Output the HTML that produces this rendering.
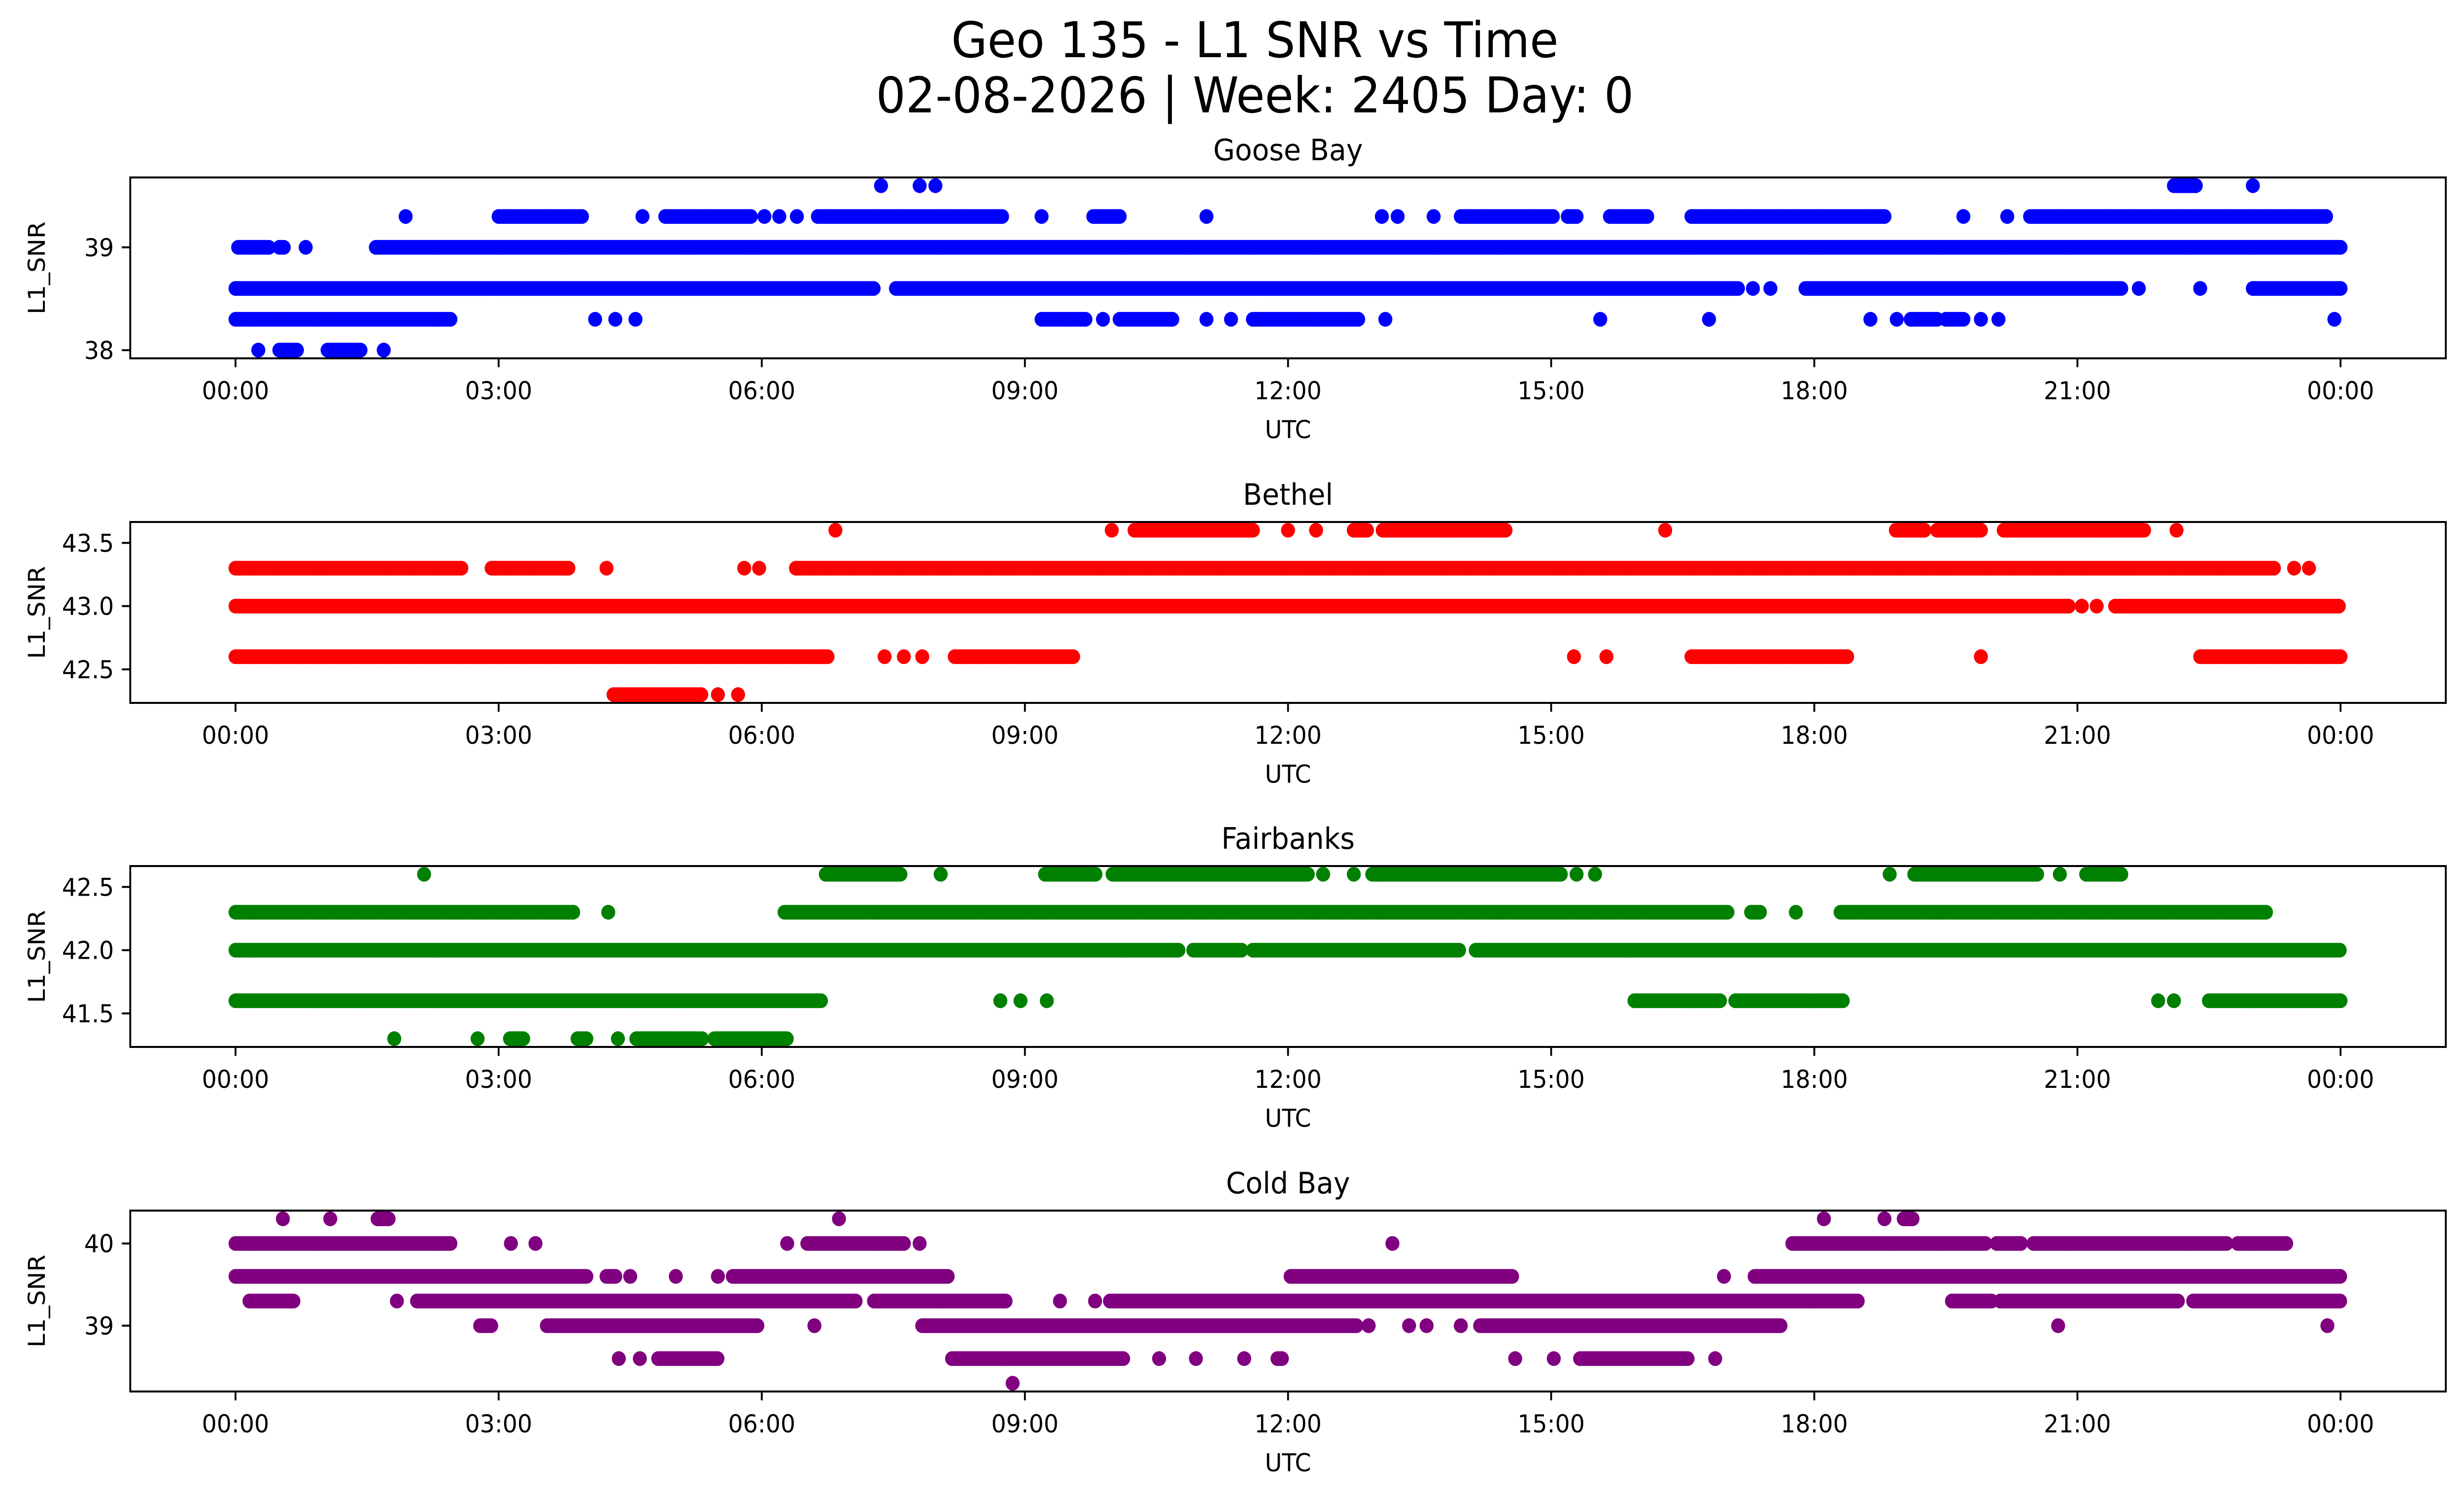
<!DOCTYPE html>
<html><head><meta charset="utf-8"><style>
html,body{margin:0;padding:0;background:#fff;width:100%;height:100%;overflow:hidden;}
svg{display:block;font-family:"DejaVu Sans","Liberation Sans",sans-serif;width:100vw;height:100vh;}
</style></head><body>
<svg id="fig" xmlns="http://www.w3.org/2000/svg" viewBox="0 0 5278 3033" preserveAspectRatio="none">
<rect x="0" y="0" width="5278" height="3033" fill="#fff"/>
<text x="2688" y="116" font-size="100" text-anchor="middle">Geo 135 - L1 SNR vs Time</text>
<text x="2688" y="228" font-size="100" text-anchor="middle">02-08-2026 | Week: 2405 Day: 0</text>
<g id="panels"></g>
</svg>
<script>
// x tick labels (hours)
const xTickHours = [0,3,6,9,12,15,18,21,24];
const xTickLabels = ["00:00","03:00","06:00","09:00","12:00","15:00","18:00","21:00","00:00"];
const stationNames = ["Goose Bay","Bethel","Fairbanks","Cold Bay"];
const stationColors = ["#0000ff","#ff0000","#008000","#800080"];
const yMins = [37.92,42.235,41.235,38.2];
const yMaxs = [39.68,43.665,42.665,40.4];
const yTicks0 = [38,39]; const yTickLabels0 = ["38","39"];
const yTicks1 = [42.5,43.0,43.5]; const yTickLabels1 = ["42.5","43.0","43.5"];
const yTicks2 = [41.5,42.0,42.5]; const yTickLabels2 = ["41.5","42.0","42.5"];
const yTicks3 = [39,40]; const yTickLabels3 = ["39","40"];
// SNR levels per station and observed time segments [startHour,endHour]
const levels0 = [39.6,39.3,39.0,38.6,38.3,38.0];
const segs0 = [
 [[7.36,7.36],[7.8,7.8],[7.98,7.98],[22.1,22.36],[23.0,23.0]],
 [[1.94,1.94],[3.0,3.97],[4.64,4.64],[4.9,5.88],[6.03,6.03],[6.2,6.2],[6.4,6.4],[6.64,8.76],[9.19,9.19],[9.78,10.1],[11.07,11.07],[13.07,13.07],[13.25,13.25],[13.66,13.66],[13.97,15.03],[15.19,15.3],[15.67,16.1],[16.6,18.8],[19.7,19.7],[20.2,20.2],[20.46,23.85]],
 [[0.03,0.4],[0.5,0.55],[0.8,0.8],[1.6,24.0]],
 [[0,7.28],[7.53,17.15],[17.3,17.3],[17.5,17.5],[17.9,21.5],[21.7,21.7],[22.4,22.4],[23.0,24.0]],
 [[0,2.45],[4.1,4.1],[4.33,4.33],[4.56,4.56],[9.19,9.7],[9.89,9.89],[10.08,10.7],[11.07,11.07],[11.35,11.35],[11.6,12.8],[13.11,13.11],[15.56,15.56],[16.8,16.8],[18.64,18.64],[18.94,18.94],[19.1,19.4],[19.5,19.7],[19.9,19.9],[20.1,20.1],[23.93,23.93]],
 [[0.26,0.26],[0.5,0.71],[1.05,1.43],[1.69,1.69]]
];
const levels1 = [43.6,43.3,43.0,42.6,42.3];
const segs1 = [
 [[6.84,6.84],[9.99,9.99],[10.25,11.6],[12.0,12.0],[12.32,12.32],[12.75,12.9],[13.08,14.5],[16.3,16.3],[18.93,19.27],[19.4,19.9],[20.16,21.77],[22.13,22.13]],
 [[0,2.58],[2.92,3.8],[4.23,4.23],[5.8,5.8],[5.97,5.97],[6.39,23.25],[23.47,23.47],[23.64,23.64]],
 [[0,20.9],[21.05,21.05],[21.22,21.22],[21.43,24.0]],
 [[0,6.77],[7.4,7.4],[7.62,7.62],[7.83,7.83],[8.2,9.57],[15.26,15.26],[15.63,15.63],[16.6,18.38],[19.9,19.9],[22.4,24.0]],
 [[4.31,5.33],[5.5,5.5],[5.73,5.73]]
];
const levels2 = [42.6,42.3,42.0,41.6,41.3];
const segs2 = [
 [[2.15,2.15],[6.73,7.58],[8.04,8.04],[9.23,9.82],[10.0,12.24],[12.4,12.4],[12.75,12.75],[12.96,15.12],[15.29,15.29],[15.5,15.5],[18.86,18.86],[19.14,20.54],[20.8,20.8],[21.1,21.5]],
 [[0,3.85],[4.25,4.25],[6.26,17.03],[17.28,17.4],[17.79,17.79],[18.3,23.17]],
 [[0,10.75],[10.92,11.47],[11.6,13.97],[14.14,24.0]],
 [[0,6.69],[8.72,8.72],[8.95,8.95],[9.25,9.25],[15.95,16.94],[17.1,18.34],[21.92,21.92],[22.1,22.1],[22.5,24.0]],
 [[1.81,1.81],[2.76,2.76],[3.13,3.3],[3.9,4.02],[4.36,4.36],[4.57,5.33],[5.46,6.3]]
];
const levels3 = [40.3,40.0,39.6,39.3,39.0,38.6,38.3];
const segs3 = [
 [[0.54,0.54],[1.08,1.08],[1.62,1.75],[6.88,6.88],[18.11,18.11],[18.8,18.8],[19.02,19.13]],
 [[0,2.45],[3.14,3.14],[3.42,3.42],[6.29,6.29],[6.52,7.62],[7.8,7.8],[13.19,13.19],[17.75,19.95],[20.08,20.37],[20.5,22.7],[22.83,23.38]],
 [[0,4.02],[4.23,4.33],[4.5,4.5],[5.02,5.02],[5.5,5.5],[5.67,8.13],[12.03,14.57],[16.97,16.97],[17.32,24.0]],
 [[0.16,0.67],[1.84,1.84],[2.07,7.07],[7.28,8.8],[9.4,9.4],[9.8,9.8],[9.97,18.5],[19.57,20.03],[20.12,22.15],[22.32,24.0]],
 [[2.79,2.92],[3.55,5.97],[6.6,6.6],[7.83,12.79],[12.92,12.92],[13.38,13.38],[13.58,13.58],[13.97,13.97],[14.19,17.62],[20.78,20.78],[23.85,23.85]],
 [[4.37,4.37],[4.61,4.61],[4.82,5.5],[8.17,10.12],[10.53,10.53],[10.95,10.95],[11.5,11.5],[11.88,11.94],[14.59,14.59],[15.03,15.03],[15.33,16.56],[16.87,16.87]],
 [[8.86,8.86]]
];

const allLevels=[levels0,levels1,levels2,levels3];
const allSegs=[segs0,segs1,segs2,segs3];
const allYTicks=[yTicks0,yTicks1,yTicks2,yTicks3];
const allYTickLabels=[yTickLabels0,yTickLabels1,yTickLabels2,yTickLabels3];

const NS="http://www.w3.org/2000/svg";
const AX_L=279, AX_R=5239, AX_H=367;
const panelTops=[360,1059,1757,2456];
function xScale(h){ return AX_L + (h - (-1.2)) / (25.2 - (-1.2)) * (AX_R-AX_L); }
function yScale(p,v){ const t=panelTops[p]; return t+AX_H - (v-yMins[p])/(yMaxs[p]-yMins[p])*AX_H; }
function mk(tag,attrs,parent){ const e=document.createElementNS(NS,tag); for(const k in attrs) e.setAttribute(k,attrs[k]); parent.appendChild(e); return e; }

const root=document.getElementById('panels');
for(let p=0;p<4;p++){
  const g=mk('g',{},root);
  
  
  const top=panelTops[p], bot=top+AX_H;
  const pts=mk('g',{fill:stationColors[p]},g);
  
  
  const lv=allLevels[p], sg=allSegs[p];
  for(let i=0;i<lv.length;i++){
    const cy=yScale(p,lv[i]);
    for(const s of sg[i]){
      for(let h=s[0]; h<=s[1]+1e-6; h+=0.025){
        const c=mk('circle',{cx:xScale(h).toFixed(1),cy:cy.toFixed(1),r:15},pts);
        
        
      }
    }
  }
  const fr=mk('rect',{x:AX_L,y:top,width:AX_R-AX_L,height:AX_H,fill:'none',stroke:'#000','stroke-width':4},g);
  
  
  for(let i=0;i<xTickHours.length;i++){
    const x=xScale(xTickHours[i]);
    const t=mk('line',{x1:x,y1:bot,x2:x,y2:bot+18,stroke:'#000','stroke-width':4},g);
    
    
    const tl=mk('text',{x:x,y:bot+83,'font-size':50,'text-anchor':'middle'},g);
    tl.textContent=xTickLabels[i];
    
    
  }
  const yt=allYTicks[p], ytl=allYTickLabels[p];
  for(let i=0;i<yt.length;i++){
    const y=yScale(p,yt[i]);
    const t=mk('line',{x1:AX_L-18,y1:y,x2:AX_L,y2:y,stroke:'#000','stroke-width':4},g);
    
    
    const tl=mk('text',{x:AX_L-35,y:y+18,'font-size':50,'text-anchor':'end'},g);
    tl.textContent=ytl[i];
    
    
  }
  const xl=mk('text',{x:(AX_L+AX_R)/2,y:bot+162,'font-size':50,'text-anchor':'middle'},g);
  xl.textContent='UTC';
  
  
  const ym=top+AX_H/2;
  const yl=mk('text',{x:0,y:0,'font-size':50,'text-anchor':'middle',transform:'translate(96,'+ym+') rotate(-90)'},g);
  yl.textContent='L1_SNR';
  
  
  const ti=mk('text',{x:(AX_L+AX_R)/2,y:top-35,'font-size':60,'text-anchor':'middle'},g);
  ti.textContent=stationNames[p];
  
  
}
</script>
</body></html>
